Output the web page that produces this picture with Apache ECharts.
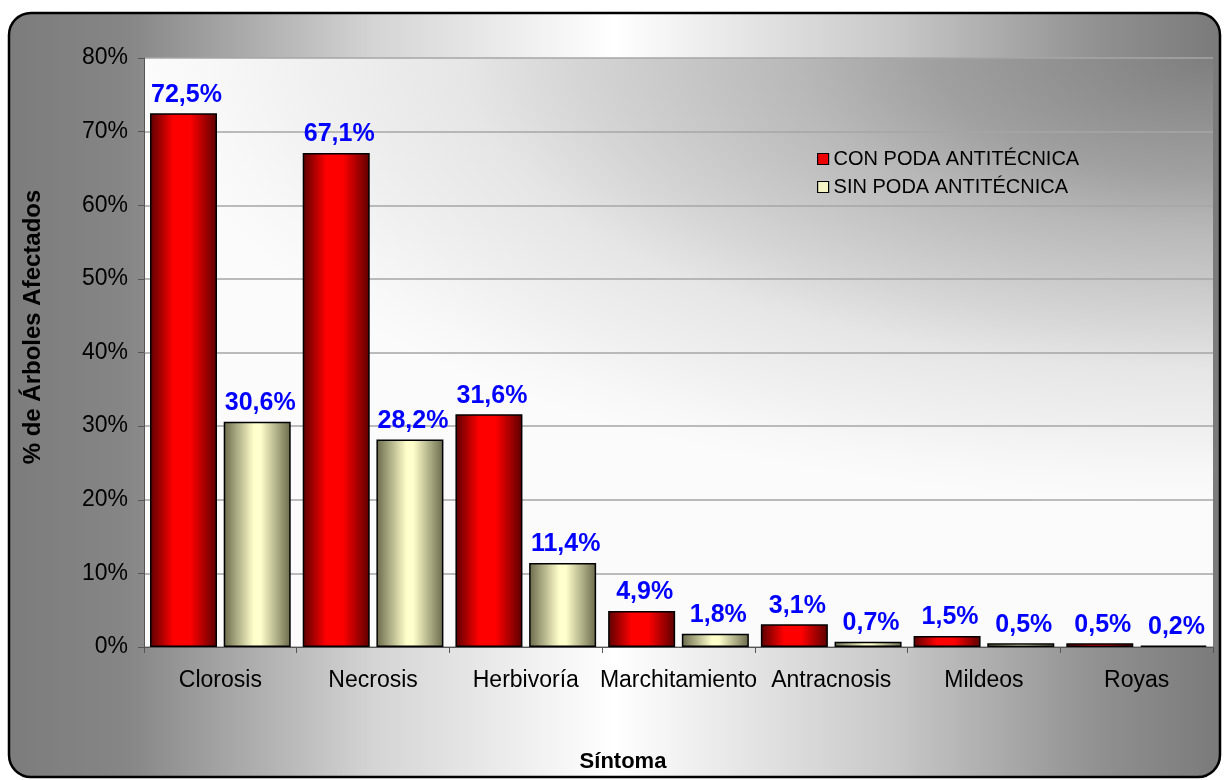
<!DOCTYPE html>
<html>
<head>
<meta charset="utf-8">
<script src="https://cdn.jsdelivr.net/npm/echarts@6/dist/echarts.min.js"></script>
<style>html,body{margin:0;padding:0;background:#fff;}#c{width:1225px;height:780px;}</style>
</head>
<body>
<div id="c"></div>
<script>
const categories = ['Clorosis', 'Necrosis', 'Herbivoría', 'Marchitamiento', 'Antracnosis', 'Mildeos', 'Royas'];
const conPoda = [72.5, 67.1, 31.6, 4.9, 3.1, 1.5, 0.5];
const sinPoda = [30.6, 28.2, 11.4, 1.8, 0.7, 0.5, 0.2];
const seriesNames = ['CON PODA ANTITÉCNICA', 'SIN PODA ANTITÉCNICA'];
const yTicks = [0, 10, 20, 30, 40, 50, 60, 70, 80];
const yTitle = '% de Árboles Afectados';
const xTitle = 'Síntoma';

const FONT = '"Liberation Sans", Arial, Helvetica, sans-serif';
const chart = echarts.init(document.getElementById('c'));

const G = {left: 144, right: 12, top: 58, bottom: 133};
const plotW = 1225 - G.left - G.right;
const plotH = 780 - G.top - G.bottom;

function hGrad(edge, center, a, b) {
  return new echarts.graphic.LinearGradient(0, 0, 1, 0, [
    {offset: 0, color: edge},
    {offset: a, color: center},
    {offset: b, color: center},
    {offset: 1, color: edge}
  ]);
}
const fmt = p => p.value.toFixed(1).replace('.', ',') + '%';

const labelStyle = {
  show: true, position: 'top', distance: 6, offset: [3, 0],
  color: '#0000ff', fontWeight: 'bold', fontSize: 25, fontFamily: FONT,
  formatter: fmt
};

const K = 2.4;
chart.setOption({
  animation: false,
  backgroundColor: '#ffffff',
  textStyle: {fontFamily: FONT},
  graphic: [
    {
      type: 'rect', z: -10, silent: true,
      shape: {x: 9, y: 13, width: 1211, height: 764, r: 22},
      style: {
        fill: new echarts.graphic.LinearGradient(0, 0, 1, 0, [
          {offset: 0, color: '#7c7c7c'},
          {offset: 0.1, color: '#868686'},
          {offset: 0.24, color: '#bcbcbc'},
          {offset: 0.3, color: '#d4d4d4'},
          {offset: 0.5, color: '#ffffff'},
          {offset: 0.73, color: '#c8c8c8'},
          {offset: 0.9, color: '#909090'},
          {offset: 1, color: '#7a7a7a'}
        ]),
        stroke: '#000', lineWidth: 2.5
      }
    },
    {
      type: 'rect', z: -5, silent: true,
      x: G.left, y: G.top, scaleX: 1, scaleY: 1 / K,
      shape: {x: 0, y: 0, width: plotW, height: plotH * K},
      style: {
        fill: new echarts.graphic.RadialGradient(1, 0, 1.0, [
          {offset: 0, color: '#7e7e7e'},
          {offset: 0.106, color: '#8c8c8c'},
          {offset: 0.262, color: '#a0a0a0'},
          {offset: 0.386, color: '#b8b8b8'},
          {offset: 0.43, color: '#bebebe'},
          {offset: 0.6, color: '#d6d6d6'},
          {offset: 0.70, color: '#e6e6e6'},
          {offset: 0.84, color: '#f0f0f0'},
          {offset: 0.94, color: '#f8f8f8'},
          {offset: 1, color: '#fbfbfb'}
        ])
      }
    },
    {
      type: 'text', x: 33, y: 327, rotation: Math.PI / 2, z: 10,
      style: {text: yTitle, fill: '#000', fontSize: 24, fontWeight: 'bold', fontFamily: FONT, align: 'center', verticalAlign: 'middle'}
    },
    {
      type: 'text', x: 623, y: 762, z: 10,
      style: {text: xTitle, fill: '#000', fontSize: 22, fontWeight: 'bold', fontFamily: FONT, align: 'center', verticalAlign: 'middle'}
    }
  ],
  grid: {left: G.left, right: G.right, top: G.top, bottom: G.bottom, show: false},
  legend: {
    orient: 'vertical', left: 812, top: 144,
    itemWidth: 11, itemHeight: 11, itemGap: 8, icon: 'rect',
    textStyle: {fontSize: 20, color: '#000', fontFamily: FONT},
    data: [
      {name: seriesNames[0], itemStyle: {color: '#ee0000', borderColor: '#000', borderWidth: 1.2}},
      {name: seriesNames[1], itemStyle: {color: '#f4f4c4', borderColor: '#000', borderWidth: 1.2}}
    ]
  },
  xAxis: {
    type: 'category', data: categories,
    axisLine: {show: true, lineStyle: {color: '#555', width: 1}},
    axisTick: {show: true, length: 6, alignWithLabel: false, lineStyle: {color: '#555'}},
    axisLabel: {color: '#000', fontSize: 23, margin: 22, interval: 0, fontFamily: FONT}
  },
  yAxis: {
    type: 'value', min: yTicks[0], max: yTicks[yTicks.length - 1], interval: yTicks[1] - yTicks[0],
    axisLine: {show: true, lineStyle: {color: '#555', width: 1}},
    axisTick: {show: true, length: 6, lineStyle: {color: '#555'}},
    axisLabel: {color: '#000', fontSize: 23, margin: 16, fontFamily: FONT, formatter: v => v + '%'},
    splitLine: {show: true, lineStyle: {color: '#a6a6a6', width: 1.5}}
  },
  series: [
    {
      name: seriesNames[0], type: 'bar', data: conPoda, barWidth: 67, barGap: '10%',
      itemStyle: {color: hGrad('#5a0000', '#ff0000', 0.35, 0.6), borderColor: '#000', borderWidth: 1.5},
      label: labelStyle
    },
    {
      name: seriesNames[1], type: 'bar', data: sinPoda, barWidth: 67, barGap: '10%',
      itemStyle: {color: hGrad('#6a6a4c', '#ffffcc', 0.45, 0.55), borderColor: '#000', borderWidth: 1.5},
      label: labelStyle
    }
  ]
});
</script>
</body>
</html>
